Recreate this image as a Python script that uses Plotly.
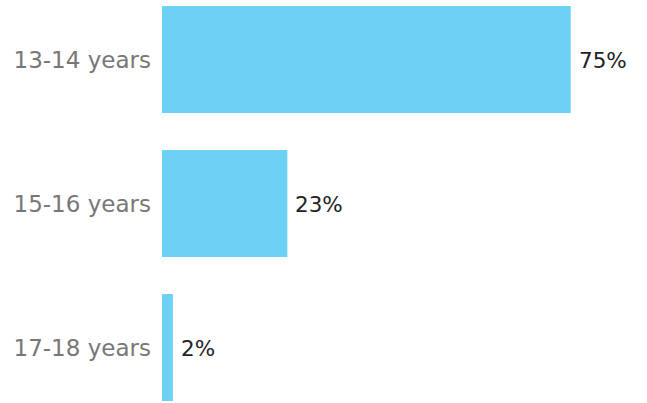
import plotly.graph_objects as go

categories = ["13-14 years", "15-16 years", "17-18 years"]
values = [75, 23, 2]
value_labels = ["75%", "23%", "2%"]

BAR_COLOR = "#6DD0F5"
FONT = "DejaVu Sans"

fig = go.Figure()
fig.add_trace(go.Bar(
    x=values, y=categories, orientation="h",
    marker=dict(color=BAR_COLOR, line=dict(width=0)),
    hoverinfo="skip",
))

for c, v, t in zip(categories, values, value_labels):
    fig.add_annotation(x=v, y=c, text=t, showarrow=False, xanchor="left",
                       xshift=6, yshift=-1,
                       font=dict(family=FONT, size=21.5, color="#222222"))

fig.update_layout(
    width=647, height=403,
    margin=dict(l=162, r=0, t=0, b=0),
    paper_bgcolor="white", plot_bgcolor="white",
    bargap=0.257,
    showlegend=False,
    xaxis=dict(range=[0, 89], visible=False, showgrid=False, zeroline=False),
    yaxis=dict(range=[2.385, -0.413], showgrid=False, zeroline=False, showline=False,
               ticks="", ticklabelstandoff=10,
               tickfont=dict(family=FONT, size=23, color="#777777")),
)

fig.write_html("out.html", post_script="document.body.style.margin='0';",
               config={"displayModeBar": False})
